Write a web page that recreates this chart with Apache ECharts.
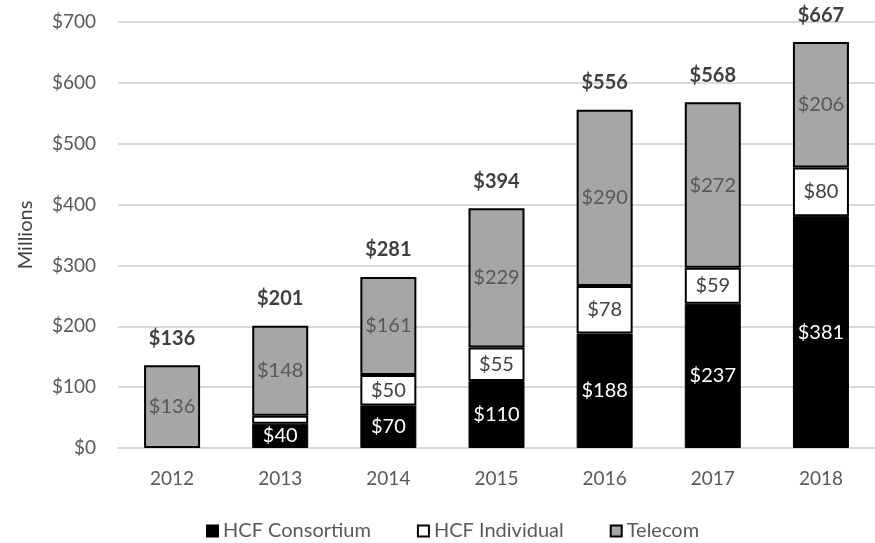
<!DOCTYPE html>
<html>
<head>
<meta charset="utf-8">
<script src="https://cdn.jsdelivr.net/npm/echarts@6/dist/echarts.min.js"></script>
<style>
html,body{margin:0;padding:0;background:#fff;}
#chart{width:875px;height:543px;}
</style>
</head>
<body>
<div id="chart"></div>
<script>
// data
var years = ["2012", "2013", "2014", "2015", "2016", "2017", "2018"];
var consortium = [0, 40, 70, 110, 188, 237, 381];
var individual = [0, 13, 50, 55, 78, 59, 80];
var telecom = [136, 148, 161, 229, 290, 272, 206];
var yTicks = [0, 100, 200, 300, 400, 500, 600, 700];

var totals = years.map(function (y, i) {
    return consortium[i] + individual[i] + telecom[i];
});

// zero values -> no bar (avoid empty borders)
function noZero(arr) {
    return arr.map(function (v) { return v === 0 ? null : v; });
}

var FONT = "Lato, 'Open Sans', sans-serif";

function money(p) {
    if (p.value == null || p.value < 20) return "";
    return "$" + p.value;
}

var chart = echarts.init(document.getElementById("chart"));
var option = {
    animation: false,
    textStyle: { fontFamily: FONT },
    grid: {
        left: 118,
        right: -9,
        top: 22,
        bottom: 95
    },
    legend: {
        data: ["HCF Consortium", "HCF Individual", "Telecom"],
        bottom: -3,
        left: 201,
        icon: "rect",
        itemWidth: 11,
        itemHeight: 11,
        itemGap: 46,
        textStyle: { color: "#595959", fontSize: 20, fontFamily: FONT }
    },
    xAxis: {
        type: "category",
        data: years,
        axisLine: { lineStyle: { color: "#d9d9d9", width: 2 } },
        axisTick: { show: false },
        axisLabel: { color: "#595959", fontSize: 19, margin: 21 }
    },
    yAxis: {
        type: "value",
        min: yTicks[0],
        max: yTicks[yTicks.length - 1],
        interval: 100,
        name: "Millions",
        nameLocation: "middle",
        nameGap: 82,
        nameTextStyle: { color: "#404040", fontSize: 20 },
        axisLine: { show: false },
        axisTick: { show: false },
        axisLabel: { color: "#595959", fontSize: 19, margin: 22, formatter: "${value}" },
        splitLine: { lineStyle: { color: "#d9d9d9", width: 2 } }
    },
    series: [{
        name: "HCF Consortium",
        type: "bar",
        stack: "total",
        barWidth: 56,
        data: noZero(consortium),
        itemStyle: { color: "#000", borderColor: "#000", borderWidth: 1 },
        label: { show: true, position: "inside", color: "#fff", fontSize: 20, formatter: money }
    }, {
        name: "HCF Individual",
        type: "bar",
        stack: "total",
        data: noZero(individual),
        itemStyle: { color: "#fff", borderColor: "#000", borderWidth: 2 },
        label: { show: true, position: "inside", color: "#404040", fontSize: 20, formatter: money }
    }, {
        name: "Telecom",
        type: "bar",
        stack: "total",
        data: noZero(telecom),
        itemStyle: { color: "#a6a6a6", borderColor: "#000", borderWidth: 2 },
        label: { show: true, position: "inside", color: "#595959", fontSize: 20, formatter: money }
    }, {
        name: "Total",
        type: "line",
        data: totals,
        symbol: "circle",
        symbolSize: 2,
        showSymbol: true,
        itemStyle: { color: "rgba(0,0,0,0)", borderWidth: 0 },
        lineStyle: { width: 0, color: "rgba(0,0,0,0)" },
        label: {
            show: true,
            position: "top",
            distance: 16,
            color: "#404040",
            fontSize: 20,
            fontWeight: "bold",
            formatter: "${c}"
        }
    }]
};
chart.setOption(option);
</script>
</body>
</html>
